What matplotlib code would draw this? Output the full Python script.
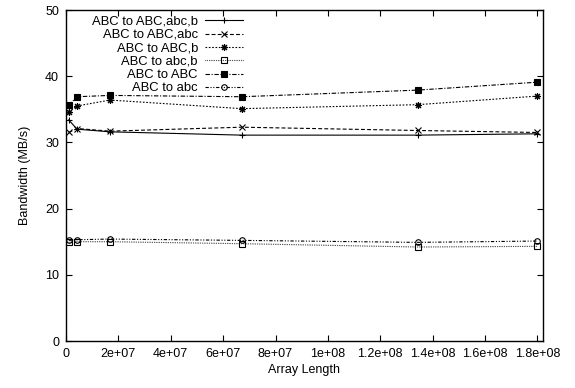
import numpy as np
import matplotlib
matplotlib.use("Agg")
import matplotlib.pyplot as plt

plt.rcParams['font.family'] = ['Liberation Sans', 'DejaVu Sans']

# array lengths
x = [1048576, 4194304, 16777216, 67108864, 134217728, 180000000]

# bandwidth (MB/s)
abc_to_abc_abc_b = [33.4, 32.0, 31.6, 31.1, 31.1, 31.3]
abc_to_abc_abc = [31.5, 32.1, 31.7, 32.3, 31.8, 31.5]
abc_to_abc_b = [34.6, 35.5, 36.4, 35.1, 35.7, 37.0]
abc_to_lower_b = [14.9, 15.0, 15.0, 14.7, 14.2, 14.3]
abc_to_abc = [35.6, 36.9, 37.1, 36.9, 37.9, 39.1]
abc_to_lower = [15.2, 15.3, 15.4, 15.2, 14.9, 15.1]

labels = ["ABC to ABC,abc,b", "ABC to ABC,abc", "ABC to ABC,b",
          "ABC to abc,b", "ABC to ABC", "ABC to abc"]
series = [abc_to_abc_abc_b, abc_to_abc_abc, abc_to_abc_b,
          abc_to_lower_b, abc_to_abc, abc_to_lower]

styles = [
    dict(ls='-', marker='+', ms=5, mfc='k'),
    dict(ls=(0, (3.5, 2)), marker='x', ms=4, mfc='k'),
    dict(ls=(0, (1.5, 1.5)), marker=(8, 2, 0), ms=5, mfc='k'),
    dict(ls=(0, (0.6, 1.0)), marker='s', ms=4, mfc='none'),
    dict(ls=(0, (4, 1.5, 1, 1.5)), marker='s', ms=4, mfc='k'),
    dict(ls=(0, (3, 1.5, 1, 1.5, 1, 1.5)), marker='o', ms=4, mfc='none'),
]

fig = plt.figure(figsize=(5.75, 3.88), dpi=100)
ax = fig.add_axes([0.1148, 0.1211, 0.829, 0.8531])

for lab, ys, st in zip(labels, series, styles):
    ax.plot(x, ys, color='black', lw=0.8, mec='black', mew=0.8,
            label=lab, **st)

ax.set_xlim(0, 1.82e8)
ax.set_ylim(0, 50)
ax.set_xticks(np.arange(0, 1.81e8, 2e7))
ax.set_xticklabels(['0', '2e+07', '4e+07', '6e+07', '8e+07', '1e+08',
                    '1.2e+08', '1.4e+08', '1.6e+08', '1.8e+08'])
ax.set_yticks(range(0, 51, 10))
ax.tick_params(direction='in', top=True, right=True, length=4,
               width=0.8, labelsize=9, pad=5)
for s in ax.spines.values():
    s.set_linewidth(1.0)

ax.set_xlabel("Array Length", fontsize=9, labelpad=3)
ax.set_ylabel("Bandwidth (MB/s)", fontsize=9, labelpad=10)

leg = ax.legend(loc='upper right', bbox_to_anchor=(0.378, 0.993),
                frameon=False, markerfirst=False, fontsize=9.4,
                handlelength=2.9, handletextpad=0.55, labelspacing=0.1,
                borderpad=0.25, borderaxespad=0.0, handleheight=0.5)

fig.savefig("out.png", dpi=100)
